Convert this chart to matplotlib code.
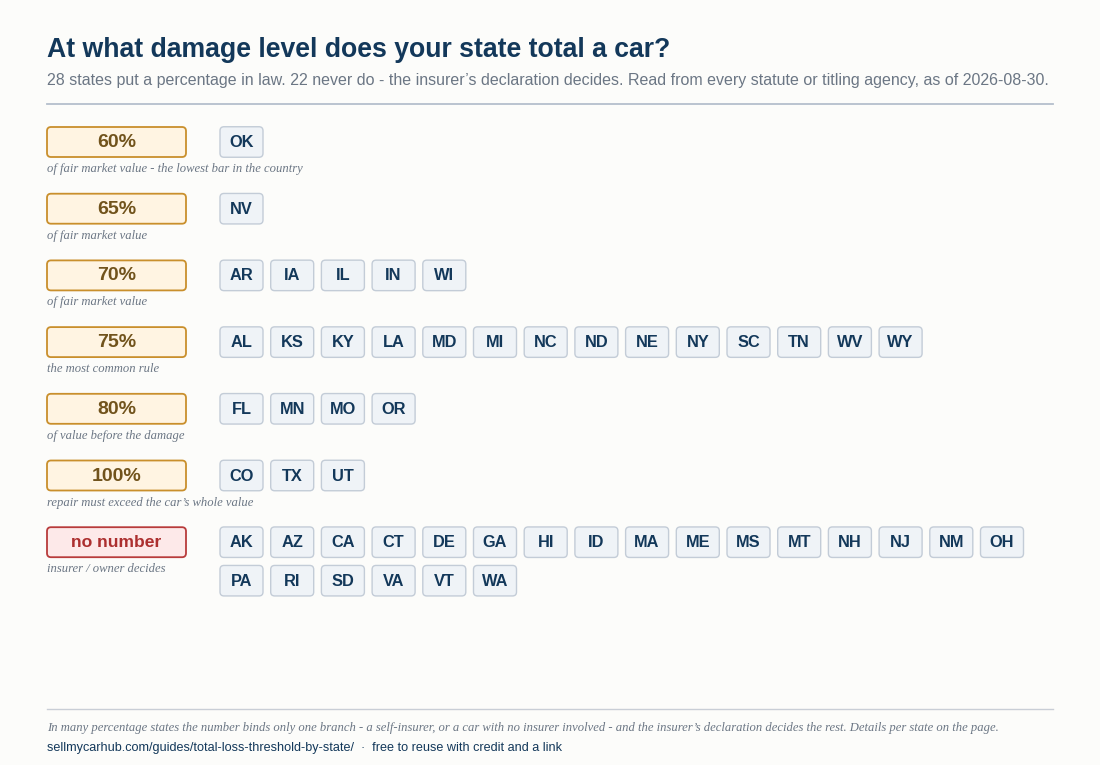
import matplotlib
matplotlib.use("Agg")
import matplotlib.pyplot as plt
from matplotlib.patches import FancyBboxPatch

# threshold groups, top to bottom
labels = ["60%", "65%", "70%", "75%", "80%", "100%", "no number"]
notes = [
    "of fair market value - the lowest bar in the country",
    "of fair market value",
    "of fair market value",
    "the most common rule",
    "of value before the damage",
    "repair must exceed the car\u2019s whole value",
    "insurer / owner decides",
]
states = [
    ["OK"],
    ["NV"],
    ["AR", "IA", "IL", "IN", "WI"],
    ["AL", "KS", "KY", "LA", "MD", "MI", "NC", "ND", "NE", "NY", "SC", "TN", "WV", "WY"],
    ["FL", "MN", "MO", "OR"],
    ["CO", "TX", "UT"],
    ["AK", "AZ", "CA", "CT", "DE", "GA", "HI", "ID", "MA", "ME", "MS", "MT", "NH", "NJ",
     "NM", "OH", "PA", "RI", "SD", "VA", "VT", "WA"],
]

title = "At what damage level does your state total a car?"
subtitle = ("28 states put a percentage in law. 22 never do - the insurer\u2019s declaration decides. "
            "Read from every statute or titling agency, as of 2026-08-30.")
footnote = ("In many percentage states the number binds only one branch - a self-insurer, or a car with "
            "no insurer involved - and the insurer\u2019s declaration decides the rest. Details per state on the page.")
source = "sellmycarhub.com/guides/total-loss-threshold-by-state/  \u00b7  free to reuse with credit and a link"

NAVY = "#13385a"
GREY = "#6b7684"
BG = "#fcfcfa"
SERIF = ["Liberation Serif", "DejaVu Serif"]

plt.rcParams["font.family"] = ["Liberation Sans", "DejaVu Sans"]

fig = plt.figure(figsize=(11, 7.65), dpi=100, facecolor=BG)
ax = fig.add_axes([0, 0, 1, 1])
ax.set_xlim(0, 1100)
ax.set_ylim(765, 0)
ax.axis("off")

ax.text(47, 56.7, title, fontsize=19.2, fontweight="bold", color=NAVY, va="baseline")
ax.text(47, 85, subtitle, fontsize=11.55, color=GREY, va="baseline")
ax.plot([47, 1053], [104, 104], color="#b4bfcc", lw=1.3)

row0, row_step = 142, 66.7
chip_x0, chip_step, chip_w, chip_h = 220, 50.7, 43, 30.5
per_line, line_step = 16, 38.5

for i, (lab, note, sts) in enumerate(zip(labels, notes, states)):
    yc = row0 + i * row_step
    none = lab == "no number"
    fc, ec, tc = ("#fde9e9", "#b83b3b", "#ac2f2f") if none else ("#fff4e2", "#c98f2c", "#71531c")
    ax.add_patch(FancyBboxPatch((47, yc - 15), 139, 30, boxstyle="round,pad=0,rounding_size=4",
                                fc=fc, ec=ec, lw=1.3))
    ax.text(116.5, yc + 0.5, lab, fontsize=12.6 if none else 14, fontweight="bold", color=tc,
            ha="center", va="center")
    ax.text(47, yc + 30, note, fontsize=9.1, style="italic", color=GREY, va="baseline", family=SERIF)
    for j, s in enumerate(sts):
        x = chip_x0 + (j % per_line) * chip_step
        y = yc + (j // per_line) * line_step
        ax.add_patch(FancyBboxPatch((x, y - chip_h / 2), chip_w, chip_h,
                                    boxstyle="round,pad=0,rounding_size=4",
                                    fc="#eff3f7", ec="#c3ccd7", lw=1.0))
        ax.text(x + chip_w / 2, y + 0.5, s, fontsize=11.8, fontweight="bold", color=NAVY,
                ha="center", va="center")

ax.plot([47, 1053], [709.3, 709.3], color="#c9ced6", lw=1.0)
ax.text(47, 731, footnote, fontsize=9.05, style="italic", color=GREY, va="baseline", family=SERIF)
ax.text(47, 751, source, fontsize=9.1, color=NAVY, va="baseline")

fig.savefig("out.png", dpi=100, facecolor=BG)
